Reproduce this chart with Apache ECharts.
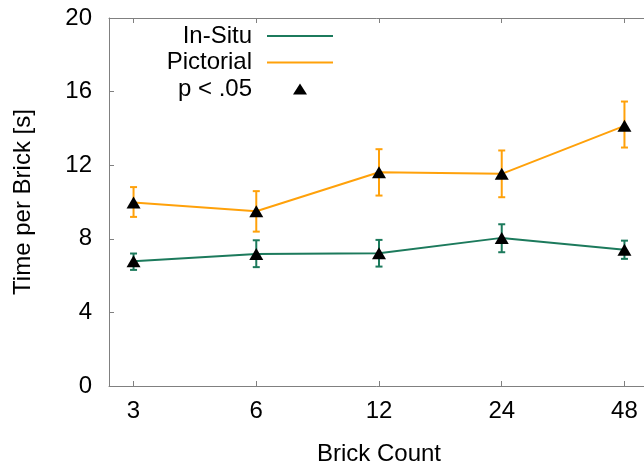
<!DOCTYPE html>
<html>
<head>
<meta charset="utf-8">
<style>
  html, body { margin: 0; padding: 0; background: #fff; }
  #chart { width: 644px; height: 467px; }
</style>
<script src="https://cdn.jsdelivr.net/npm/echarts@6/dist/echarts.min.js"></script>
</head>
<body>
<div id="chart"></div>
<script>
var brickCounts = ['3', '6', '12', '24', '48'];
var inSitu = [6.78, 7.18, 7.22, 8.05, 7.40];
var inSituLow = [6.31, 6.46, 6.49, 7.27, 6.91];
var inSituHigh = [7.20, 7.92, 7.94, 8.79, 7.90];
var pictorial = [9.97, 9.50, 11.62, 11.53, 14.14];
var pictorialLow = [9.19, 8.39, 10.35, 10.26, 12.96];
var pictorialHigh = [10.81, 10.59, 12.87, 12.80, 15.46];
var yTicks = [0, 4, 8, 12, 16, 20];

(function() {
  var green = '#1c7a5c';
  var orange = '#ffa10a';
  var axisGrey = '#808080';
  var font = 'Liberation Sans, Arial, sans-serif';
  var tickIdx = brickCounts.map(function(c, i) { return i; });
  // triangle in the middle of a 66x13 box, so the legend does not stretch it
  var triIcon = 'path://M0,0L0.01,0M66,13L65.99,13M26,12L33,1L40,12Z';

  function pairs(vals) {
    return vals.map(function(v, i) { return [i, v]; });
  }
  function bars(lo, hi) {
    return lo.map(function(v, i) { return [i, v, hi[i]]; });
  }
  function errorBar(color) {
    return function(params, api) {
      var x = api.value(0);
      var top = api.coord([x, api.value(2)]);
      var bot = api.coord([x, api.value(1)]);
      var cap = 3.5;
      var st = { stroke: color, lineWidth: 2 };
      return {
        type: 'group',
        children: [
          { type: 'line', shape: { x1: top[0], y1: top[1], x2: bot[0], y2: bot[1] }, style: st },
          { type: 'line', shape: { x1: top[0] - cap, y1: top[1], x2: top[0] + cap, y2: top[1] }, style: st },
          { type: 'line', shape: { x1: bot[0] - cap, y1: bot[1], x2: bot[0] + cap, y2: bot[1] }, style: st }
        ]
      };
    };
  }

  var xCommon = {
    type: 'value',
    min: -0.2,
    max: 4.2,
    axisLine: { show: true, onZero: false, lineStyle: { color: axisGrey, width: 1 } },
    axisTick: { show: true, inside: true, length: 5, customValues: tickIdx, lineStyle: { color: axisGrey } },
    splitLine: { show: false }
  };
  var yCommon = {
    type: 'value',
    min: 0,
    max: 20,
    interval: 4,
    axisLine: { show: true, onZero: false, lineStyle: { color: axisGrey, width: 1 } },
    axisTick: { show: true, inside: true, length: 5, lineStyle: { color: axisGrey } },
    splitLine: { show: false }
  };

  var chart = echarts.init(document.getElementById('chart'), null, { renderer: 'canvas' });
  chart.setOption({
    animation: false,
    backgroundColor: '#fff',
    textStyle: { fontFamily: font },
    grid: { left: 109, width: 540, top: 18, bottom: 81, outerBoundsMode: 'none', containLabel: false },
    legend: {
      orient: 'vertical',
      right: 310,
      top: 24,
      padding: 0,
      align: 'right',
      itemWidth: 66,
      itemHeight: 13,
      itemGap: 2.5,
      textStyle: { fontSize: 24, color: '#000', fontFamily: font, padding: [0, 10, 0, 0] },
      data: [
        { name: 'In-Situ', itemStyle: { opacity: 0 } },
        { name: 'Pictorial', itemStyle: { opacity: 0 } },
        { name: 'p < .05', icon: triIcon }
      ]
    },
    xAxis: [
      Object.assign({}, xCommon, {
        position: 'bottom',
        name: 'Brick Count',
        nameLocation: 'middle',
        nameGap: 56,
        nameTextStyle: { fontSize: 24, color: '#000', fontFamily: font },
        axisLabel: {
          show: true, customValues: tickIdx, margin: 13, fontSize: 24, color: '#000', fontFamily: font,
          formatter: function(v) { return brickCounts[Math.round(v)]; }
        }
      }),
      Object.assign({}, xCommon, { position: 'top', axisLabel: { show: false } })
    ],
    yAxis: [
      Object.assign({}, yCommon, {
        position: 'left',
        name: 'Time per Brick [s]',
        nameLocation: 'middle',
        nameGap: 74,
        nameTextStyle: { fontSize: 24, color: '#000', fontFamily: font },
        axisLabel: { show: true, margin: 17, fontSize: 24, color: '#000', fontFamily: font,
          customValues: yTicks }
      }),
      Object.assign({}, yCommon, { position: 'right', axisLabel: { show: false } })
    ],
    series: [
      {
        name: 'In-Situ', type: 'line', symbol: 'none', data: pairs(inSitu),
        lineStyle: { color: green, width: 2 }, itemStyle: { color: green }, z: 3
      },
      {
        name: 'Pictorial', type: 'line', symbol: 'none', data: pairs(pictorial),
        lineStyle: { color: orange, width: 2 }, itemStyle: { color: orange }, z: 3
      },
      {
        name: 'p < .05', type: 'scatter', symbol: 'triangle', symbolSize: [14, 12],
        data: pairs(inSitu).concat(pairs(pictorial)),
        itemStyle: { color: '#000', opacity: 1 }, z: 5
      },
      {
        name: 'In-Situ error', type: 'custom', renderItem: errorBar(green),
        itemStyle: { color: green },
        encode: { x: 0, y: [1, 2] }, data: bars(inSituLow, inSituHigh), z: 2
      },
      {
        name: 'Pictorial error', type: 'custom', renderItem: errorBar(orange),
        itemStyle: { color: orange },
        encode: { x: 0, y: [1, 2] }, data: bars(pictorialLow, pictorialHigh), z: 2
      }
    ]
  });
  window.addEventListener('resize', function() { chart.resize(); });
})();
</script>
</body>
</html>
